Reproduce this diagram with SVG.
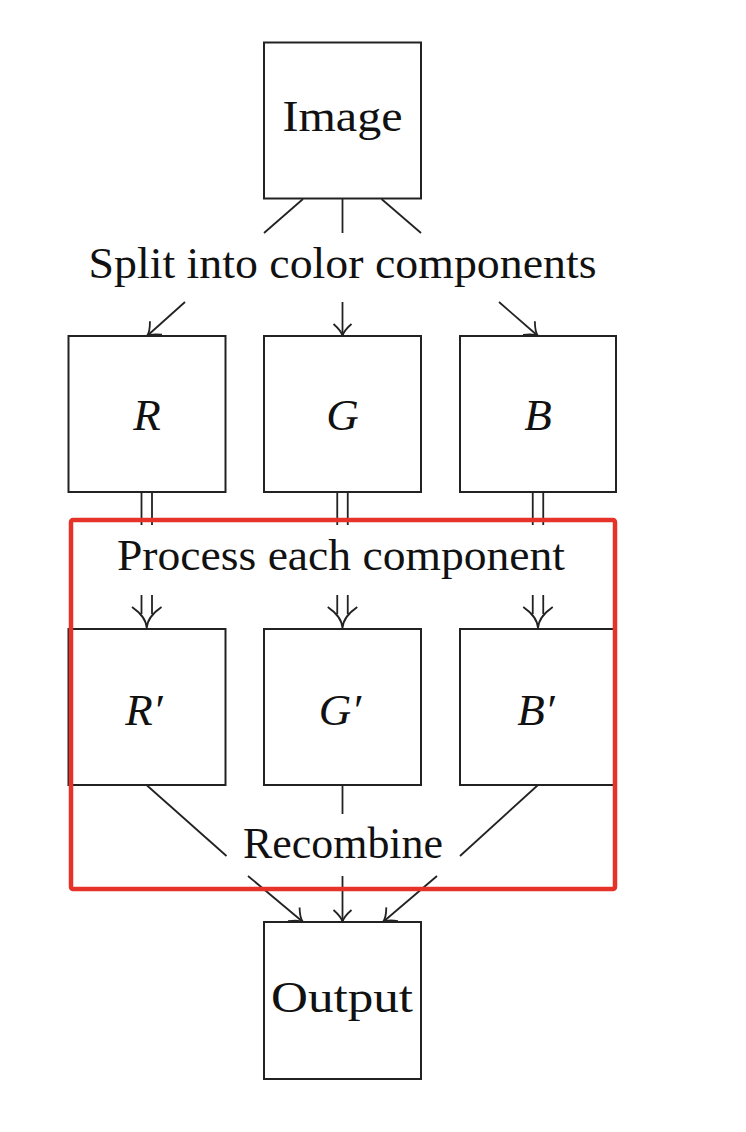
<svg xmlns="http://www.w3.org/2000/svg" width="746" height="1132" viewBox="0 0 746 1132">
<style>
.box{fill:#fff;stroke:#222;stroke-width:2}
.ln{fill:none;stroke:#222;stroke-width:1.8}
.t{font-family:"Liberation Serif","DejaVu Serif",serif;font-size:45px;fill:#111;text-anchor:middle}
.i{font-style:italic}
.red{fill:none;stroke:#e5332a;stroke-width:4.5}
</style>
<defs>
<marker id="ar" markerUnits="userSpaceOnUse" markerWidth="30" markerHeight="30" viewBox="-15 -15 30 30" refX="0" refY="0" orient="auto">
<path d="M-12,-9 Q-5,-1 0,0 Q-5,1 -12,9" fill="none" stroke="#222" stroke-width="1.8"/>
</marker>
</defs>
<rect width="746" height="1132" fill="#fff"/>
<g id="connectors">
<line class="ln" x1="303" y1="199" x2="264" y2="233"/>
<line class="ln" x1="342.5" y1="199" x2="342.5" y2="233"/>
<line class="ln" x1="381.5" y1="199" x2="421" y2="233"/>
<line class="ln" x1="185" y1="302" x2="147" y2="336" marker-end="url(#ar)"/>
<line class="ln" x1="342.5" y1="302" x2="342.5" y2="336" marker-end="url(#ar)"/>
<line class="ln" x1="499" y1="302" x2="538" y2="336" marker-end="url(#ar)"/>
<g id="dbl-r">
<path class="ln" d="M141.5,493V525M152,493V525M141.5,595V614M152,595V614M132,607C139,612 146,618 146.75,628M161.5,607C154.5,612 147.5,618 146.75,628"/>
</g>
<g id="dbl-g">
<path class="ln" d="M337.25,493V525M347.75,493V525M337.25,595V614M347.75,595V614M327.75,607C334.75,612 341.75,618 342.5,628M357.25,607C350.25,612 343.25,618 342.5,628"/>
</g>
<g id="dbl-b">
<path class="ln" d="M532.75,493V525M543.25,493V525M532.75,595V614M543.25,595V614M523.25,607C530.25,612 537.25,618 538,628M552.75,607C545.75,612 538.75,618 538,628"/>
</g>
<line class="ln" x1="146.5" y1="785" x2="226.5" y2="856"/>
<line class="ln" x1="342.5" y1="785" x2="342.5" y2="814"/>
<line class="ln" x1="538" y1="785" x2="460" y2="856"/>
<line class="ln" x1="248" y1="876" x2="303" y2="922" marker-end="url(#ar)"/>
<line class="ln" x1="342.5" y1="876" x2="342.5" y2="922" marker-end="url(#ar)"/>
<line class="ln" x1="437" y1="876" x2="383" y2="922" marker-end="url(#ar)"/>
</g>
<g id="image"><rect class="box" x="264" y="42.5" width="157" height="156"/><text class="t" x="342.5" y="131" textLength="120" lengthAdjust="spacingAndGlyphs">Image</text></g>
<g id="split"><text class="t" x="342.5" y="278" textLength="508" lengthAdjust="spacingAndGlyphs">Split into color components</text></g>
<g id="r"><rect class="box" x="68.5" y="336" width="157" height="156"/><text class="t i" x="147" y="430">R</text></g>
<g id="g"><rect class="box" x="264" y="336" width="157" height="156"/><text class="t i" x="342.5" y="430">G</text></g>
<g id="b"><rect class="box" x="460" y="336" width="156" height="156"/><text class="t i" x="538" y="430">B</text></g>
<g id="process"><text class="t" x="341" y="570" textLength="448" lengthAdjust="spacingAndGlyphs">Process each component</text></g>
<g id="r2"><rect class="box" x="68.5" y="629" width="157" height="156"/><text class="t i" x="144" y="725">R′</text></g>
<g id="g2"><rect class="box" x="264" y="629" width="157" height="156"/><text class="t i" x="340" y="725">G′</text></g>
<g id="b2"><rect class="box" x="460" y="629" width="156" height="156"/><text class="t i" x="536" y="725">B′</text></g>
<g id="recombine"><text class="t" x="343" y="858" textLength="200" lengthAdjust="spacingAndGlyphs">Recombine</text></g>
<g id="output"><rect class="box" x="264" y="922" width="157" height="157"/><text class="t" x="342" y="1012" textLength="142" lengthAdjust="spacingAndGlyphs">Output</text></g>
<rect id="highlight" class="red" x="71" y="520" width="544" height="369" rx="2"/>
</svg>
